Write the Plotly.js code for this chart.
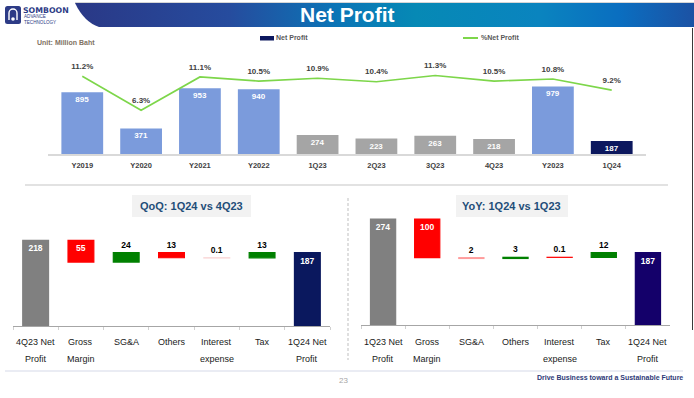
<!DOCTYPE html>
<html>
<head>
<meta charset="utf-8">
<script src="https://cdn.plot.ly/plotly-3.0.1.min.js"></script>
<style>html,body{margin:0;padding:0;background:#fff;}#chart{width:694px;height:398px;}</style>
</head>
<body>
<div id="chart"></div>
<script>
// ---------- DATA ----------
const topCats = ['Y2019','Y2020','Y2021','Y2022','1Q23','2Q23','3Q23','4Q23','Y2023','1Q24'];
const netProfit = [895, 371, 953, 940, 274, 223, 263, 218, 979, 187];
const netMarginPct = [11.2, 6.3, 11.1, 10.5, 10.9, 10.4, 11.3, 10.5, 10.8, 9.2];

const qoqCats = ['4Q23 Net<br>Profit','Gross<br>Margin','SG&A','Others','Interest<br>expense','Tax','1Q24 Net<br>Profit'];
const qoqValues = [218, -55, 24, -13, -0.1, 13, 187];
const qoqMeasures = ['absolute','relative','relative','relative','relative','relative','total'];

const yoyCats = ['1Q23 Net<br>Profit','Gross<br>Margin','SG&A','Others','Interest<br>expense','Tax','1Q24 Net<br>Profit'];
const yoyValues = [274, -100, -2, 3, -0.1, 12, 187];
const yoyMeasures = ['absolute','relative','relative','relative','relative','relative','total'];

// ---------- STYLES ----------
const topColors = ['#7b9bdc','#7b9bdc','#7b9bdc','#7b9bdc','#a5a5a5','#a5a5a5','#a5a5a5','#a5a5a5','#7b9bdc','#0c185e'];
const qoqColors = ['#808080','#ff0000','#008000','#ff0000','#f9d0d0','#008000','#0a185e'];
const yoyColors = ['#808080','#ff0000','#ff9c9c','#008000','#ff0000','#008000','#14006a'];

const W = 694, H = 398;
const px = v => v / W;
const py = v => 1 - v / H;
const FONT = 'Liberation Sans, Arial, sans-serif';

function waterfallBars(vals, measures) {
  let running = 0;
  const base = [], h = [];
  vals.forEach((v, i) => {
    const m = measures[i];
    if (m === 'absolute' || m === 'total') { base.push(0); h.push(v); running = v; }
    else {
      if (v >= 0) { base.push(running); h.push(v); }
      else { base.push(running + v); h.push(-v); }
      running += v;
    }
  });
  return {base, h};
}

function waterfallTrace(cats, vals, measures, colors, xa, ya) {
  const wb = waterfallBars(vals, measures);
  const inside = wb.h.map(v => v > 30);
  return {
    type: 'bar', x: cats, y: wb.h, base: wb.base, xaxis: xa, yaxis: ya,
    width: 0.57,
    marker: {color: colors, line: {color: colors, width: 1.2}},
    text: vals.map(v => String(Math.abs(v))),
    textposition: inside.map(b => b ? 'inside' : 'outside'),
    insidetextanchor: 'end',
    constraintext: 'none',
    cliponaxis: false,
    textfont: {family: FONT, size: 8.5, weight: 'bold', color: inside.map(b => b ? '#ffffff' : '#000000')},
    hoverinfo: 'skip', showlegend: false
  };
}

const traces = [
  {
    type: 'bar', x: topCats, y: netProfit, xaxis: 'x', yaxis: 'y',
    width: 0.71,
    marker: {color: topColors},
    text: netProfit.map(String), textposition: 'inside', insidetextanchor: 'end',
    constraintext: 'none', cliponaxis: false,
    textfont: {family: FONT, size: 8, weight: 'bold', color: '#ffffff'},
    showlegend: false, hoverinfo: 'skip'
  },
  {
    type: 'scatter', mode: 'lines+markers+text', x: topCats, y: netMarginPct, xaxis: 'x', yaxis: 'y2',
    line: {color: '#7dd64a', width: 1.6},
    marker: {size: 7, color: 'rgba(0,0,0,0)'},
    texttemplate: '%{y:.1f}%', textposition: 'top center', cliponaxis: false,
    textfont: {family: FONT, size: 8, weight: 'bold', color: '#404040'},
    showlegend: false, hoverinfo: 'skip'
  },
  waterfallTrace(qoqCats, qoqValues, qoqMeasures, qoqColors, 'x2', 'y3'),
  waterfallTrace(yoyCats, yoyValues, yoyMeasures, yoyColors, 'x3', 'y4')
];

const annotations = [];
function txt(x, y, text, opts) {
  annotations.push(Object.assign({
    xref: 'paper', yref: 'paper', x: px(x), y: py(y), text: text, showarrow: false,
    xanchor: 'left', yanchor: 'middle', borderpad: 0, font: {family: FONT, size: 8, color: '#000'}
  }, opts || {}));
}

// header texts
txt(347, 15, 'Net Profit', {xanchor: 'center', font: {family: FONT, size: 21, weight: 'bold', color: '#ffffff'}});
txt(22, 10, 'SOMBOON', {font: {family: 'DejaVu Sans, sans-serif', size: 7.8, weight: 'bold', color: '#2d3b86'}});
txt(22.5, 19, 'ADVANCE<br>TECHNOLOGY', {align: 'left', font: {family: FONT, size: 4.6, color: '#2d3b86'}});

// top chart texts
txt(36, 42, 'Unit: Million Baht', {font: {family: FONT, size: 7, weight: 'bold', color: '#7f7262'}});
txt(275, 37.5, 'Net Profit', {font: {family: FONT, size: 7, weight: 'bold', color: '#595959'}});
txt(480, 37.5, '%Net Profit', {font: {family: FONT, size: 7, weight: 'bold', color: '#595959'}});

// subtitles
txt(191.5, 206, 'QoQ: 1Q24 vs 4Q23', {xanchor: 'center', font: {family: FONT, size: 11, weight: 'bold', color: '#1f4e79'}});
txt(512, 206, 'YoY: 1Q24 vs 1Q23', {xanchor: 'center', font: {family: FONT, size: 11, weight: 'bold', color: '#1f4e79'}});

// waterfall category labels (two lines, wide line spacing)
function catLabels(cats, xa) {
  cats.forEach(c => {
    c.split('<br>').forEach((line, j) => {
      annotations.push({
        xref: xa, yref: 'paper', x: c, y: py(342 + 16.5 * j), text: line, showarrow: false,
        xanchor: 'center', yanchor: 'middle', font: {family: FONT, size: 9, color: '#1a1a1a'}
      });
    });
  });
}
catLabels(qoqCats, 'x2');
catLabels(yoyCats, 'x3');

// footer
txt(343, 380.5, '23', {xanchor: 'center', font: {family: FONT, size: 8, color: '#a6a6a6'}});
txt(684, 377, 'Drive Business toward a Sustainable Future', {xanchor: 'right', font: {family: FONT, size: 7, weight: 'bold', color: '#2f3b78'}});

const shapes = [
  // legend swatches
  {type: 'rect', xref: 'paper', yref: 'paper', x0: px(260), x1: px(274), y0: py(40.5), y1: py(36), fillcolor: '#0c185e', line: {width: 0}},
  {type: 'line', xref: 'paper', yref: 'paper', x0: px(463), x1: px(478), y0: py(38), y1: py(38), line: {color: '#7dd64a', width: 2}},
  // separator
  {type: 'line', xref: 'paper', yref: 'paper', x0: px(25), x1: px(668), y0: py(185), y1: py(185), line: {color: '#d9d9d9', width: 1.5}},
  // subtitle boxes
  {type: 'rect', xref: 'paper', yref: 'paper', x0: px(132), x1: px(251), y0: py(217), y1: py(195), fillcolor: '#f2f2f2', line: {width: 0}, layer: 'below'},
  {type: 'rect', xref: 'paper', yref: 'paper', x0: px(456), x1: px(568), y0: py(217), y1: py(195), fillcolor: '#f2f2f2', line: {width: 0}, layer: 'below'},
  // dashed divider
  {type: 'line', xref: 'paper', yref: 'paper', x0: px(348), x1: px(348), y0: py(198), y1: py(360), line: {color: '#bfbfbf', width: 1, dash: '3px,2px'}},
  // footer line
  {type: 'line', xref: 'paper', yref: 'paper', x0: px(5), x1: px(683), y0: py(371), y1: py(371), line: {color: '#d5d9e8', width: 1}},
  // right slide edge
  {type: 'line', xref: 'paper', yref: 'paper', x0: px(692.5), x1: px(692.5), y0: py(28), y1: py(330), line: {color: '#3a3a3a', width: 1}}
];

const svg = "<svg xmlns='http://www.w3.org/2000/svg' width='694' height='398' viewBox='0 0 694 398' preserveAspectRatio='none'>" +
  "<defs><linearGradient id='g' x1='75' x2='694' y1='0' y2='0' gradientUnits='userSpaceOnUse'>" +
  "<stop offset='0' stop-color='#2a3886'/><stop offset='0.25' stop-color='#264c9e'/>" +
  "<stop offset='0.42' stop-color='#0b74b6'/><stop offset='0.55' stop-color='#0689b5'/>" +
  "<stop offset='0.75' stop-color='#0a84bf'/><stop offset='0.88' stop-color='#0a6ec0'/>" +
  "<stop offset='1' stop-color='#1c52a4'/></linearGradient></defs>" +
  "<line x1='75' y1='2.5' x2='694' y2='2.5' stroke='#d6d6d6' stroke-width='1'/>" +
  "<path d='M75,3 L694,3 L694,27 L99,27 Q84,22 75,3 Z' fill='url(#g)'/>" +
  "<rect x='5' y='6' width='16' height='18' rx='2.5' fill='#2d3b86'/>" +
  "<path d='M9,20 L9,13 A4,4 0 0 1 17,13 L17,20' stroke='#ffffff' stroke-width='1.4' fill='none'/>" +
  "<circle cx='13' cy='19' r='1.8' fill='#ffffff'/>" +
  "</svg>";

const layout = {
  width: W, height: H,
  margin: {l: 0, r: 0, t: 0, b: 0, pad: 0},
  paper_bgcolor: '#ffffff', plot_bgcolor: 'rgba(0,0,0,0)',
  showlegend: false,
  font: {family: FONT},
  xaxis: {
    domain: [px(48), px(646)], anchor: 'y', type: 'category',
    showline: true, linecolor: '#d9d9d9', linewidth: 1.5, ticks: '', showgrid: false, zeroline: false,
    tickfont: {family: FONT, size: 7.5, weight: 'bold', color: '#404040'}, ticklabelstandoff: 3, fixedrange: true
  },
  yaxis: {domain: [py(154), py(45)], range: [0, 1580], visible: false, fixedrange: true},
  yaxis2: {overlaying: 'y', side: 'right', range: [0, 15.7], visible: false, fixedrange: true},
  xaxis2: {
    domain: [px(13), px(330)], anchor: 'y3', type: 'category',
    showline: true, linecolor: '#a6a6a6', linewidth: 1, ticks: 'outside', tickson: 'boundaries',
    ticklen: 3, tickcolor: '#d0d0d0', showticklabels: false, showgrid: false, zeroline: false, fixedrange: true
  },
  yaxis3: {domain: [py(326.3), py(190)], range: [0, 346], visible: false, fixedrange: true},
  xaxis3: {
    domain: [px(361), px(670)], anchor: 'y4', type: 'category',
    showline: true, linecolor: '#a6a6a6', linewidth: 1, ticks: 'outside', tickson: 'boundaries',
    ticklen: 3, tickcolor: '#d0d0d0', showticklabels: false, showgrid: false, zeroline: false, fixedrange: true
  },
  yaxis4: {domain: [py(325), py(190)], range: [0, 349], visible: false, fixedrange: true},
  annotations: annotations,
  shapes: shapes,
  images: [{
    source: 'data:image/svg+xml;charset=utf-8,' + encodeURIComponent(svg),
    xref: 'paper', yref: 'paper', x: 0, y: 1, sizex: 1, sizey: 1,
    xanchor: 'left', yanchor: 'top', sizing: 'stretch', layer: 'below'
  }]
};

Plotly.newPlot('chart', traces, layout, {staticPlot: true, displayModeBar: false});
</script>
</body>
</html>
